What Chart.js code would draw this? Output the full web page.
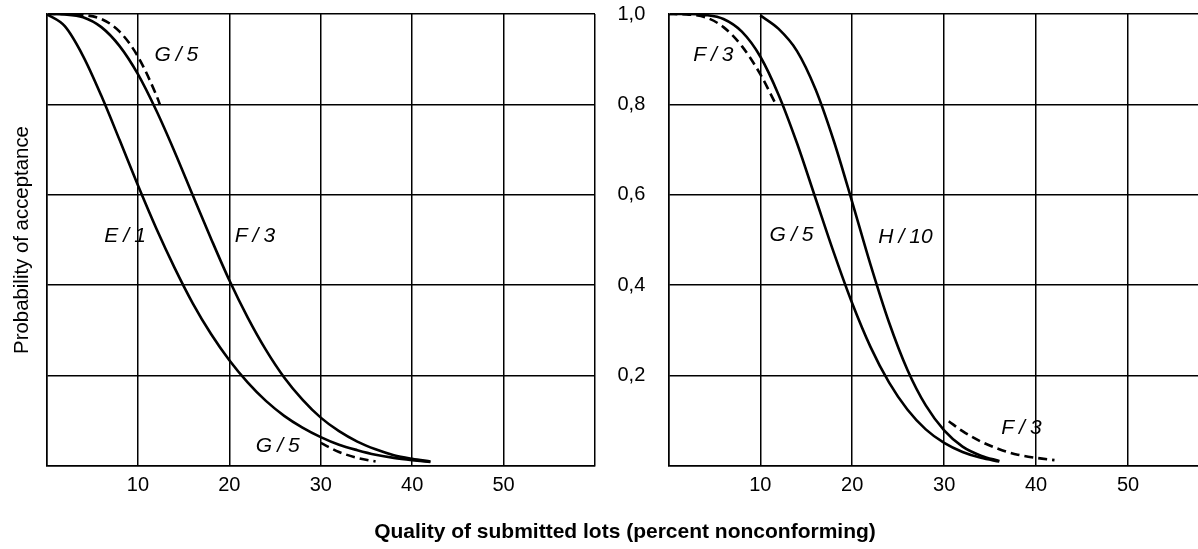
<!DOCTYPE html>
<html>
<head>
<meta charset="utf-8">
<script src="https://cdn.jsdelivr.net/npm/chart.js@4.4.1/dist/chart.umd.min.js"></script>
<style>
  html, body { margin:0; padding:0; background:#fff; overflow:hidden; width:1198px; height:549px; }
  canvas { position:absolute; left:0; top:0; }
</style>
</head>
<body>
<canvas id="right" width="1220" height="549"></canvas>
<canvas id="left" width="620" height="549"></canvas>
<script>
// ---------- DATA ----------
const xTitle = 'Quality of submitted lots (percent nonconforming)';
const yTitle = 'Probability of acceptance';
const xGrid = [0, 10, 20, 30, 40, 50, 60];
const xTickLabels = [10, 20, 30, 40, 50];
const yGrid = [0, 0.2, 0.4, 0.6, 0.8, 1.0];
const yTickLabels = { '0.2': '0,2', '0.4': '0,4', '0.6': '0,6', '0.8': '0,8', '1': '1,0' };

// Left panel
const xE1 = [0, 2, 4, 6, 8, 10, 12, 14, 16, 18, 20, 22, 24, 26, 28, 30, 32, 34, 36, 38, 40, 42];
const pE1 = [1.000, 0.973, 0.907, 0.819, 0.721, 0.621, 0.526, 0.439, 0.360, 0.292, 0.234, 0.185, 0.144, 0.111, 0.085, 0.064, 0.047, 0.035, 0.025, 0.018, 0.013, 0.009];
const xF3left = [0, 2, 4, 6, 8, 10, 12, 14, 16, 18, 20, 22, 24, 26, 28, 30, 32, 34, 36, 38, 40, 42];
const pF3left = [1.000, 0.999, 0.993, 0.971, 0.929, 0.867, 0.787, 0.696, 0.599, 0.503, 0.411, 0.329, 0.257, 0.196, 0.147, 0.107, 0.077, 0.054, 0.037, 0.024, 0.016, 0.010];
const xG5leftTop = [0, 2, 4, 6, 8, 10, 12, 12.4];
const pG5leftTop = [1.000, 1.000, 0.998, 0.989, 0.961, 0.906, 0.821, 0.800];
const xG5leftBottom = [30, 32, 34, 36];
const pG5leftBottom = [0.051, 0.031, 0.018, 0.010];

// Right panel
const xF3rightTop = [0, 2, 4, 6, 8, 10, 11.7];
const pF3rightTop = [1.000, 0.999, 0.993, 0.971, 0.929, 0.867, 0.800];
const xF3rightBottom = [30.5, 32, 34, 36, 38, 40, 42];
const pF3rightBottom = [0.099, 0.077, 0.054, 0.037, 0.025, 0.018, 0.013];
const xG5right = [0, 2, 4, 6, 8, 10, 12, 14, 16, 18, 20, 22, 24, 26, 28, 30, 32, 34, 36];
const pG5right = [1.000, 1.000, 0.998, 0.989, 0.961, 0.906, 0.821, 0.714, 0.593, 0.472, 0.360, 0.263, 0.185, 0.125, 0.081, 0.051, 0.031, 0.018, 0.010];
const xH10 = [10, 12, 14, 16, 18, 20, 22, 24, 26, 28, 30, 32, 34, 36];
const pH10 = [0.997, 0.967, 0.918, 0.834, 0.719, 0.584, 0.445, 0.318, 0.213, 0.134, 0.079, 0.043, 0.023, 0.011];

// Curve labels
const labelsLeft = ['G/5', 'E/1', 'F/3', 'G/5'];
const labelsRight = ['F/3', 'G/5', 'H/10', 'F/3'];

// ---------- RENDER ----------
const FONT = '"Liberation Sans", Arial, sans-serif';
const labelPos = {
  left:  [[14.2, 0.908], [8.6, 0.508], [22.8, 0.508], [25.3, 0.043]],
  right: [[4.9, 0.908], [13.4, 0.511], [25.8, 0.507], [38.4, 0.084]]
};

const curveLabelPlugin = {
  id: 'curveLabels',
  afterDatasetsDraw(chart, args, opts) {
    const { ctx } = chart;
    const xs = chart.scales.x, ys = chart.scales.y;
    const gap = 5;
    ctx.save();
    ctx.font = 'italic 21px ' + FONT;
    ctx.fillStyle = '#000';
    ctx.textAlign = 'left';
    ctx.textBaseline = 'middle';
    opts.texts.forEach((t, i) => {
      const [vx, vy] = opts.pos[i];
      const parts = t.split('/');
      const wa = ctx.measureText(parts[0]).width;
      const ws = ctx.measureText('/').width;
      const wb = ctx.measureText(parts[1]).width;
      const total = wa + gap + ws + gap + wb;
      let px = xs.getPixelForValue(vx) - total / 2;
      const py = ys.getPixelForValue(vy);
      ctx.fillText(parts[0], px, py); px += wa + gap;
      ctx.fillText('/', px, py); px += ws + gap;
      ctx.fillText(parts[1], px, py);
    });
    ctx.restore();
  }
};

function toPts(xs, ys) { return xs.map((x, i) => ({ x: x, y: ys[i] })); }
function ds(label, xs, ys, dashed) {
  return {
    label: label,
    data: toPts(xs, ys),
    borderColor: '#000',
    borderWidth: 2.6,
    borderDash: dashed ? [9, 5] : [],
    pointRadius: 0,
    fill: false,
    cubicInterpolationMode: 'monotone'
  };
}
const gridOpts = { color: '#000', lineWidth: 1.5, drawTicks: false };
const borderOpts = { color: '#000', width: 1.5 };
const tickFont = { family: FONT, size: 20 };
function zeroPad(s) { s.paddingTop = 0; s.paddingBottom = 0; s.paddingLeft = 0; s.paddingRight = 0; }

function xScale(height) {
  return {
    type: 'linear', min: 0, max: 60,
    afterBuildTicks: s => { s.ticks = xGrid.map(v => ({ value: v })); },
    afterFit: s => { s.height = height; zeroPad(s); },
    grid: gridOpts, border: borderOpts,
    ticks: {
      autoSkip: false, maxRotation: 0, padding: 7, color: '#000', font: tickFont,
      callback: v => xTickLabels.includes(v) ? String(v) : ''
    }
  };
}

new Chart(document.getElementById('left'), {
  type: 'line',
  data: { datasets: [
    ds('E/1', xE1, pE1, false),
    ds('F/3', xF3left, pF3left, false),
    ds('G/5', xG5leftTop, pG5leftTop, true),
    ds('G/5', xG5leftBottom, pG5leftBottom, true)
  ]},
  options: {
    responsive: false, animation: false, events: [],
    layout: { padding: { left: 0, top: 14, right: 25, bottom: 0 } },
    plugins: {
      legend: { display: false }, tooltip: { enabled: false },
      curveLabels: { texts: labelsLeft, pos: labelPos.left }
    },
    scales: {
      x: xScale(83),
      y: {
        min: 0, max: 1,
        afterBuildTicks: s => { s.ticks = yGrid.map(v => ({ value: v })); },
        afterFit: s => { s.width = 46.5; zeroPad(s); },
        grid: gridOpts, border: borderOpts,
        ticks: { display: false },
        title: { display: true, text: yTitle, color: '#000', font: { family: FONT, size: 20.4 }, padding: { top: 10, bottom: 0 } }
      }
    }
  },
  plugins: [curveLabelPlugin]
});

new Chart(document.getElementById('right'), {
  type: 'line',
  data: { datasets: [
    ds('G/5', xG5right, pG5right, false),
    ds('H/10', xH10, pH10, false),
    ds('F/3', xF3rightTop, pF3rightTop, true),
    ds('F/3', xF3rightBottom, pF3rightBottom, true)
  ]},
  options: {
    responsive: false, animation: false, events: [],
    layout: { padding: { left: 30, top: 14, right: 0, bottom: 0 } },
    plugins: {
      legend: { display: false }, tooltip: { enabled: false },
      title: { display: true, position: 'bottom', text: xTitle, color: '#000',
               font: { family: FONT, size: 21, weight: 'bold' }, padding: { top: 0, bottom: 4 } },
      curveLabels: { texts: labelsRight, pos: labelPos.right }
    },
    scales: {
      x: xScale(549 - 29.2 - 466),
      y: {
        min: 0, max: 1,
        afterBuildTicks: s => { s.ticks = yGrid.map(v => ({ value: v })); },
        afterFit: s => { s.width = 638.3; zeroPad(s); },
        grid: gridOpts, border: borderOpts,
        ticks: { padding: 23, color: '#000', font: tickFont,
                 callback: v => yTickLabels[String(Math.round(v * 10) / 10)] || '' }
      }
    }
  },
  plugins: [curveLabelPlugin]
});
</script>
</body>
</html>
